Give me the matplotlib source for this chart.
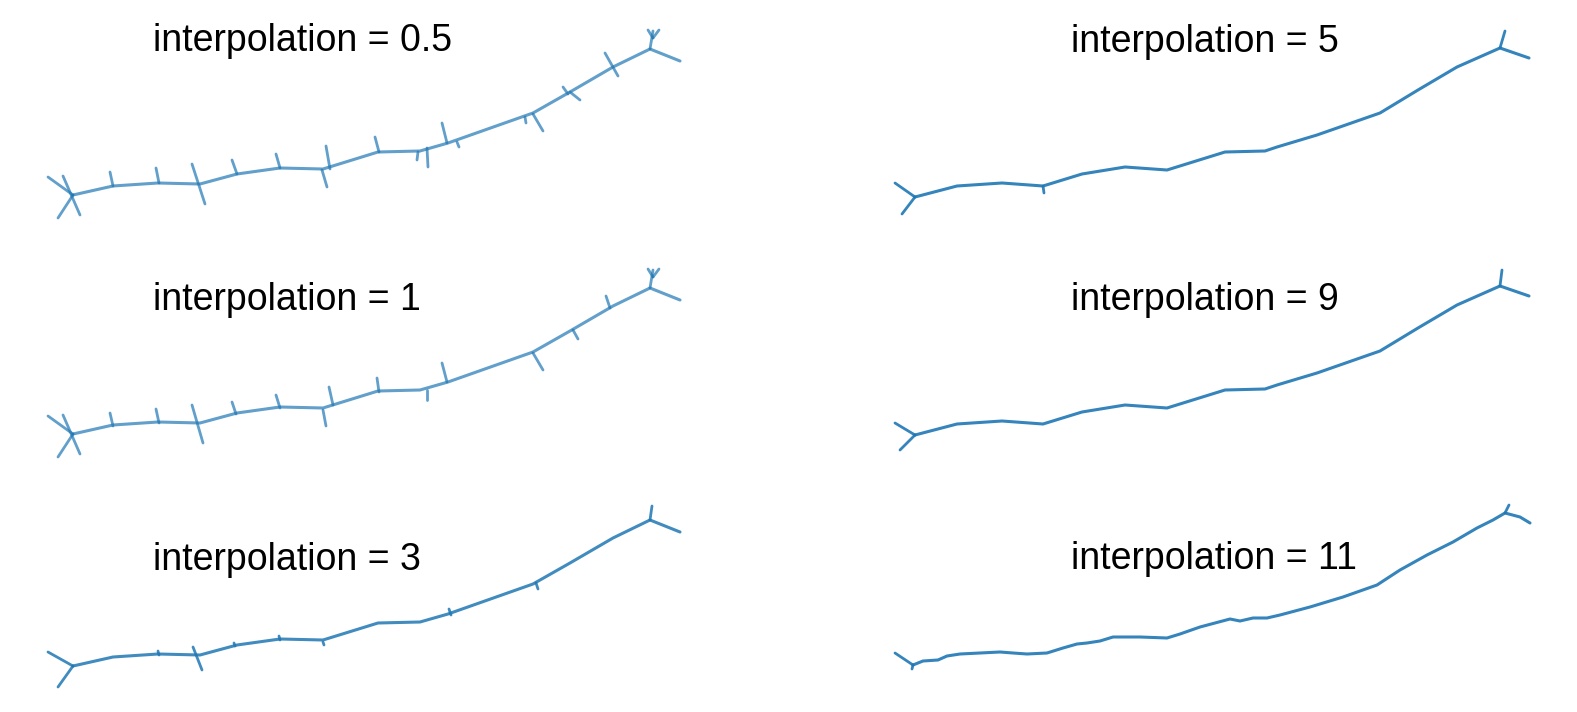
import matplotlib
matplotlib.use("Agg")
import matplotlib.pyplot as plt

# skeleton trunk of the shape, in source pixels (left column / right column)
trunk_left_x = [73, 113, 158, 200, 237, 280, 323, 378, 420, 448, 533, 570, 613, 650, 680]
trunk_left_y = [195, 186, 183, 184, 174, 168, 169, 152, 151, 143, 113, 92, 67, 49, 61]
trunk_right_x = [915, 957, 1002, 1043, 1082, 1125, 1167, 1225, 1265, 1277, 1317, 1380, 1418, 1457, 1500, 1529]
trunk_right_y = [197, 186, 183, 186, 174, 167, 170, 152, 151, 147, 135, 113, 90, 67, 48, 58]
# interpolation = 11 gives a jagged trunk
trunk_11_x = [913, 923, 938, 947, 960, 980, 1000, 1013, 1027, 1047, 1063, 1077, 1087, 1100,
              1113, 1127, 1140, 1167, 1180, 1200, 1230, 1240, 1253, 1267, 1280, 1310, 1343,
              1377, 1400, 1427, 1453, 1477, 1493, 1505, 1520, 1530]
trunk_11_y = [197, 193, 192, 188, 186, 185, 184, 185, 186, 185, 180, 176, 175, 173,
              169, 169, 169, 170, 166, 159, 151, 153, 150, 150, 147, 139, 129,
              117, 102, 87, 74, 60, 52, 45, 49, 55]

# spurs left on the skeleton for each interpolation value: (x0, y0, x1, y1)
spurs_05 = [
    (73, 195, 48, 177), (73, 195, 58, 218), (63, 176, 80, 215),
    (110, 172, 113, 186), (156, 168, 159, 183), (192, 164, 205, 204),
    (232, 160, 237, 174), (276, 154, 280, 168), (326, 146, 330, 169),
    (322, 170, 327, 187), (375, 137, 379, 152), (418, 152, 417, 160),
    (427, 148, 428, 167), (442, 123, 447, 143), (457, 142, 459, 147),
    (525, 117, 526, 123), (533, 114, 543, 131), (563, 87, 568, 94),
    (570, 92, 580, 100), (605, 53, 618, 76), (650, 49, 653, 31),
    (653, 38, 648, 30), (653, 38, 659, 30),
]
spurs_1 = [
    (73, 195, 48, 177), (73, 195, 58, 218), (63, 176, 80, 215),
    (110, 174, 113, 187), (156, 170, 159, 184), (192, 166, 203, 204),
    (232, 163, 236, 175), (276, 156, 280, 169), (329, 148, 333, 166),
    (323, 171, 326, 187), (377, 139, 379, 153), (427, 151, 427, 161),
    (442, 124, 447, 143), (533, 114, 543, 131), (573, 91, 578, 100),
    (606, 57, 610, 69), (650, 49, 653, 31), (653, 38, 648, 30),
    (653, 38, 659, 30),
]
spurs_3 = [
    (73, 195, 48, 181), (73, 195, 58, 216), (158, 180, 159, 184),
    (193, 176, 202, 199), (234, 172, 235, 175), (279, 165, 280, 169),
    (323, 171, 324, 174), (449, 138, 451, 144), (536, 112, 538, 118),
    (650, 49, 652, 35),
]
spurs_5 = [(915, 197, 895, 183), (915, 197, 902, 214), (1043, 186, 1044, 193),
           (1500, 48, 1505, 31)]
spurs_9 = [(915, 197, 895, 185), (915, 197, 900, 212), (1500, 48, 1502, 32)]
spurs_11 = [(913, 197, 895, 185), (913, 197, 912, 201), (1505, 45, 1509, 37)]

labels = ["interpolation = 0.5", "interpolation = 1", "interpolation = 3",
          "interpolation = 5", "interpolation = 9", "interpolation = 11"]

W, H = 1577, 712
fig = plt.figure(figsize=(W / 100, H / 100), dpi=100)
fig.patch.set_facecolor("white")

trunks = {
    "L": (trunk_left_x, trunk_left_y),
    "R": (trunk_right_x, trunk_right_y),
    "R11": (trunk_11_x, trunk_11_y),
}

# (trunk, spurs, row shift in px, band, title pos, alpha)
panels = [
    ("L", spurs_05, 0, (0, 237), (153, 51), 0.7),
    ("L", spurs_1, 239, (237, 470), (153, 310), 0.7),
    ("L", spurs_3, 471, (470, 712), (153, 570), 0.85),
    ("R", spurs_5, 0, (0, 237), (1071, 52), 0.9),
    ("R", spurs_9, 238, (237, 470), (1071, 310), 0.9),
    ("R11", spurs_11, 468, (470, 712), (1071, 569), 0.9),
]

for (key, spurs, dy, band, tpos, alpha), label in zip(panels, labels):
    x0, x1 = (0, 788) if key == "L" else (788, W)
    y0, y1 = band
    ax = fig.add_axes([x0 / W, 1 - y1 / H, (x1 - x0) / W, (y1 - y0) / H])
    ax.set_xlim(x0, x1)
    ax.set_ylim(y1 - dy, y0 - dy)
    ax.axis("off")
    tx, ty = trunks[key]
    ax.plot(tx, ty, color="#1f77b4", lw=2.2, alpha=alpha,
            solid_capstyle="round", solid_joinstyle="round", clip_on=False)
    for sx0, sy0, sx1, sy1 in spurs:
        ax.plot([sx0, sx1], [sy0, sy1], color="#1f77b4", lw=2.0, alpha=alpha,
                solid_capstyle="round", clip_on=False)
    fig.text(tpos[0] / W, 1 - tpos[1] / H, label, fontsize=27,
             family=["Liberation Sans", "DejaVu Sans"], va="baseline", ha="left")

fig.savefig("out.png", dpi=100)
